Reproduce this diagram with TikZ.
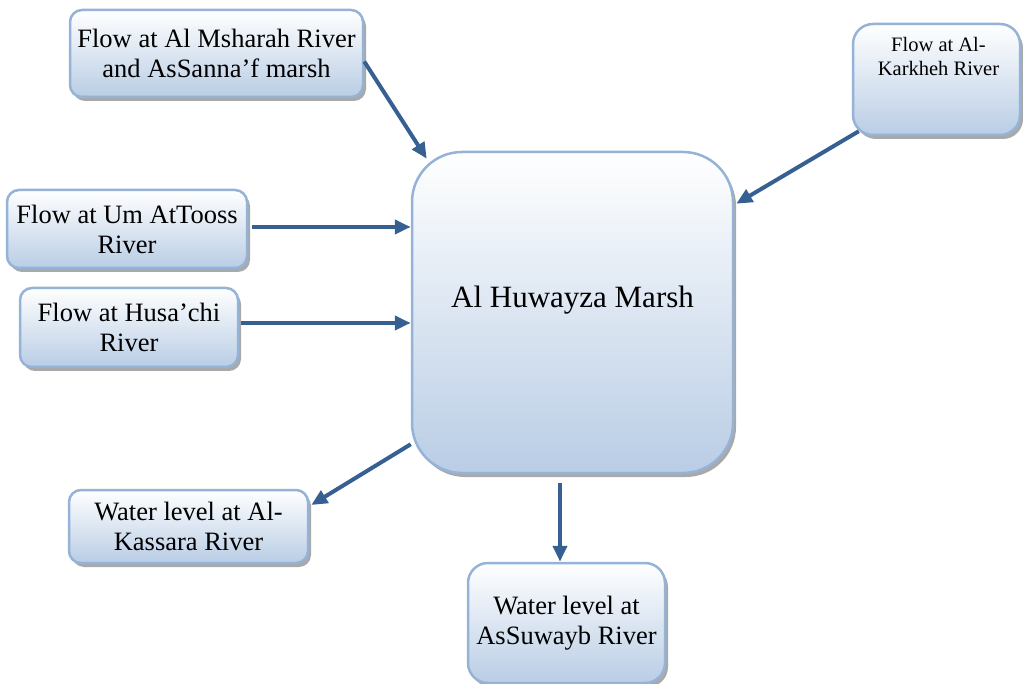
\documentclass[tikz,border=0pt]{standalone}
\usepackage{fontspec}
\setmainfont{Liberation Serif}
\usetikzlibrary{shadows,arrows.meta,calc}
\definecolor{boxline}{HTML}{95B3D7}
\definecolor{boxblue}{HTML}{B9CDE5}
\definecolor{arrowblue}{HTML}{376092}
\definecolor{shadowgray}{HTML}{A0A0A0}
\newcommand\fsbox{\fontsize{26.5}{30}\selectfont}
\newcommand\fssmall{\fontsize{20.5}{24}\selectfont}
\newcommand\fsmain{\fontsize{31}{36}\selectfont}
\begin{document}
\begin{tikzpicture}[x=1pt,y=-1pt,
  box/.style={draw=boxline, line width=2.5pt, top color=white, bottom color=boxblue,
    rounded corners=12pt, inner sep=0pt, align=center, font=\fsbox,
    drop shadow={shadow xshift=3pt, shadow yshift=-4pt, fill=shadowgray, opacity=0.9}},
  arr/.style={draw=arrowblue, line width=4pt, -{Triangle[length=16pt,width=14pt]}},
  txt/.style={inner sep=0pt, align=center}]
\useasboundingbox (0,0) rectangle (1023,684);
\node[box, minimum width=293pt, minimum height=87pt] (msh) at (216.5,53.5)
  {Flow at Al Msharah River\\and AsSanna’f marsh};
\node[box, minimum width=240pt, minimum height=78pt] (um) at (127,229)
  {Flow at Um AtTooss\\River};
\node[box, minimum width=218pt, minimum height=79pt] (hus) at (129,327.5)
  {Flow at Husa’chi\\River};
\node[box, minimum width=239pt, minimum height=73pt] (kas) at (188.5,526.5)
  {Water level at Al-\\Kassara River};
\node[box, rounded corners=20pt, minimum width=197pt, minimum height=120pt] (suw) at (566.5,623)
  {Water level at\\AsSuwayb River};
\node[box, rounded corners=20pt, minimum width=167pt, minimum height=111pt] (kar) at (936.5,79.5) {};
\node[txt, font=\fssmall, anchor=north] (karT) at ($(kar.north)+(2,14)$)
  {Flow at Al-\\Karkheh River};
\node[box, rounded corners=50pt, minimum width=321pt, minimum height=321pt] (main) at (572.5,312.5) {};
\node[txt, font=\fsmain, anchor=base] (mainT) at ($(main.center)+(0,-4.5)$) {Al Huwayza Marsh};
% connectors
\draw[arr] ($(msh.east)+(0,8)$) -- ($(main.north west)+(16,8)$);
\draw[arr] ($(um.east)+(4,-2)$) coordinate (u1) -- (u1 -| main.west);
\draw[arr] ($(hus.east)+(2,-4.5)$) coordinate (h1) -- (h1 -| main.west);
\draw[arr] ($(kar.south west)+(7,-5)$) -- ($(main.north east)+(2,53)$);
\draw[arr] ($(main.south west)+(0,-30)$) -- ($(kas.east)+(2,-21.5)$);
\draw[arr] ($(main.south)+(-12.5,9)$) coordinate (s1) -- (s1 |- suw.north);
\end{tikzpicture}
\end{document}
